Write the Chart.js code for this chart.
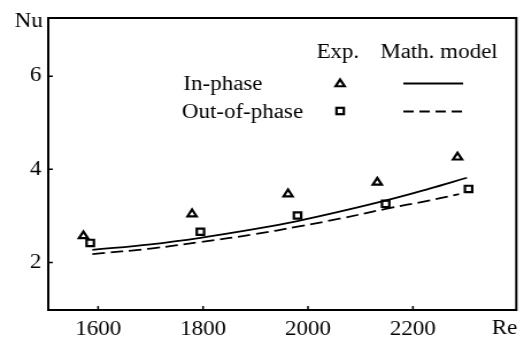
<!DOCTYPE html>
<html>
<head>
<meta charset="utf-8">
<script src="https://cdn.jsdelivr.net/npm/chart.js@4.4.0/dist/chart.umd.min.js"></script>
<style>
  body { margin: 0; background: #fff; overflow: hidden; }
  /* the scan is stretched sideways, so draw narrow and widen it */
  #wrap { width: 456px; height: 343px; transform: scaleX(1.1491); transform-origin: 0 0; }
</style>
</head>
<body>
<div id="wrap"><canvas id="chart" width="456" height="343"></canvas></div>
<script>
//=============================== DATA ===============================
var xTicks = [1600, 1800, 2000, 2200];
var yTicks = [2, 4, 6];

// experiments
var inPhaseRe  = [1572, 1779, 1962, 2132, 2285];
var inPhaseNu  = [2.57, 3.04, 3.47, 3.72, 4.26];
var outPhaseRe = [1585, 1795, 1980, 2148, 2306];
var outPhaseNu = [2.42, 2.66, 3.01, 3.26, 3.58];

// math. model curves
var modelInRe  = [1589, 1700, 1795, 1900, 1980, 2060, 2162, 2230, 2303];
var modelInNu  = [2.27, 2.39, 2.53, 2.72, 2.89, 3.09, 3.37, 3.58, 3.82];
var modelOutRe = [1589, 1700, 1795, 1900, 1980, 2060, 2148, 2230, 2288];
var modelOutNu = [2.18, 2.30, 2.44, 2.61, 2.77, 2.94, 3.15, 3.33, 3.47];

function pts(xs, ys) {
  return xs.map(function (x, i) { return { x: x, y: ys[i] }; });
}

var FONT = '"Liberation Serif", "Times New Roman", serif';

//=============================== EXTRAS ===============================
function triangle(ctx, x, y, r) {
  ctx.beginPath();
  ctx.moveTo(x, y - r);
  ctx.lineTo(x + 0.866 * r, y + 0.5 * r);
  ctx.lineTo(x - 0.866 * r, y + 0.5 * r);
  ctx.closePath();
  ctx.stroke();
}
function square(ctx, x, y, r) {
  var h = r * Math.SQRT1_2;
  ctx.strokeRect(x - h, y - h, 2 * h, 2 * h);
}

var frame = {
  id: 'frame',
  afterDraw: function (chart) {
    var ctx = chart.ctx, a = chart.chartArea;
    var xs = chart.scales.x, ys = chart.scales.y;
    ctx.save();
    ctx.strokeStyle = '#000';
    ctx.lineWidth = 2;
    ctx.strokeRect(a.left, a.top, a.right - a.left, a.bottom - a.top);

    // small inward ticks
    ctx.lineWidth = 1.5;
    ctx.beginPath();
    xTicks.forEach(function (v) {
      var px = xs.getPixelForValue(v);
      ctx.moveTo(px, a.bottom); ctx.lineTo(px, a.bottom - 4);
    });
    yTicks.forEach(function (v) {
      var py = ys.getPixelForValue(v);
      ctx.moveTo(a.left, py); ctx.lineTo(a.left + 4, py);
    });
    ctx.stroke();

    // axis titles
    ctx.fillStyle = '#000';
    ctx.font = '20px ' + FONT;
    ctx.textAlign = 'center';
    ctx.textBaseline = 'alphabetic';
    ctx.fillText('Nu', 25, 27);
    ctx.fillText('Re', 439, 334);

    // legend table
    ctx.fillText('Exp.', 294, 58);
    ctx.fillText('Math. model', 382, 58);
    ctx.fillText('In-phase', 194, 90);
    ctx.fillText('Out-of-phase', 211, 118);

    ctx.lineWidth = 2.2;
    triangle(ctx, 296, 84, 4.5);
    square(ctx, 296, 111, 4.5);

    ctx.lineWidth = 1.8;
    ctx.beginPath();
    ctx.moveTo(351, 83.5); ctx.lineTo(403, 83.5);
    ctx.stroke();
    ctx.setLineDash([9, 5]);
    ctx.beginPath();
    ctx.moveTo(351, 111.5); ctx.lineTo(403, 111.5);
    ctx.stroke();
    ctx.restore();
  }
};

//=============================== CHART ===============================
var ctx1 = document.getElementById('chart');
var nuChart = new Chart(ctx1, {
  type: 'scatter',
  data: {
    datasets: [{
      label: 'In-phase model',
      data: pts(modelInRe, modelInNu),
      showLine: true,
      borderColor: '#000',
      borderWidth: 1.8,
      pointRadius: 0,
      tension: 0.4
    }, {
      label: 'Out-of-phase model',
      data: pts(modelOutRe, modelOutNu),
      showLine: true,
      borderColor: '#000',
      borderWidth: 1.8,
      borderDash: [11, 5],
      pointRadius: 0,
      tension: 0.4
    }, {
      label: 'In-phase exp.',
      data: pts(inPhaseRe, inPhaseNu),
      pointStyle: 'triangle',
      pointRadius: 4.5,
      pointBorderWidth: 2.2,
      pointBorderColor: '#000',
      pointBackgroundColor: '#fff'
    }, {
      label: 'Out-of-phase exp.',
      data: pts(outPhaseRe, outPhaseNu),
      pointStyle: 'rect',
      pointRadius: 4.5,
      pointBorderWidth: 2.2,
      pointBorderColor: '#000',
      pointBackgroundColor: '#fff'
    }]
  },
  options: {
    responsive: false,
    animation: false,
    devicePixelRatio: 1,
    layout: { padding: { top: 14, right: 6, left: 0, bottom: 0 } },
    plugins: { legend: { display: false }, tooltip: { enabled: false } },
    scales: {
      x: {
        type: 'linear',
        min: 1505,
        max: 2397,
        grid: { display: false, drawTicks: false },
        border: { display: false },
        afterBuildTicks: function (s) { s.ticks = xTicks.map(function (v) { return { value: v }; }); },
        afterFit: function (s) { s.height = 33; },
        ticks: {
          color: '#000',
          padding: 8,
          maxRotation: 0,
          font: { family: FONT, size: 20 },
          callback: function (v) { return String(v); }
        }
      },
      y: {
        type: 'linear',
        min: 0.98,
        max: 7.25,
        grid: { display: false, drawTicks: false },
        border: { display: false },
        afterBuildTicks: function (s) { s.ticks = yTicks.map(function (v) { return { value: v }; }); },
        afterFit: function (s) { s.width = 42; },
        ticks: {
          color: '#000',
          padding: 6,
          font: { family: FONT, size: 20 },
          callback: function (v) { return String(v); }
        }
      }
    }
  },
  plugins: [frame]
});
</script>
</body>
</html>
